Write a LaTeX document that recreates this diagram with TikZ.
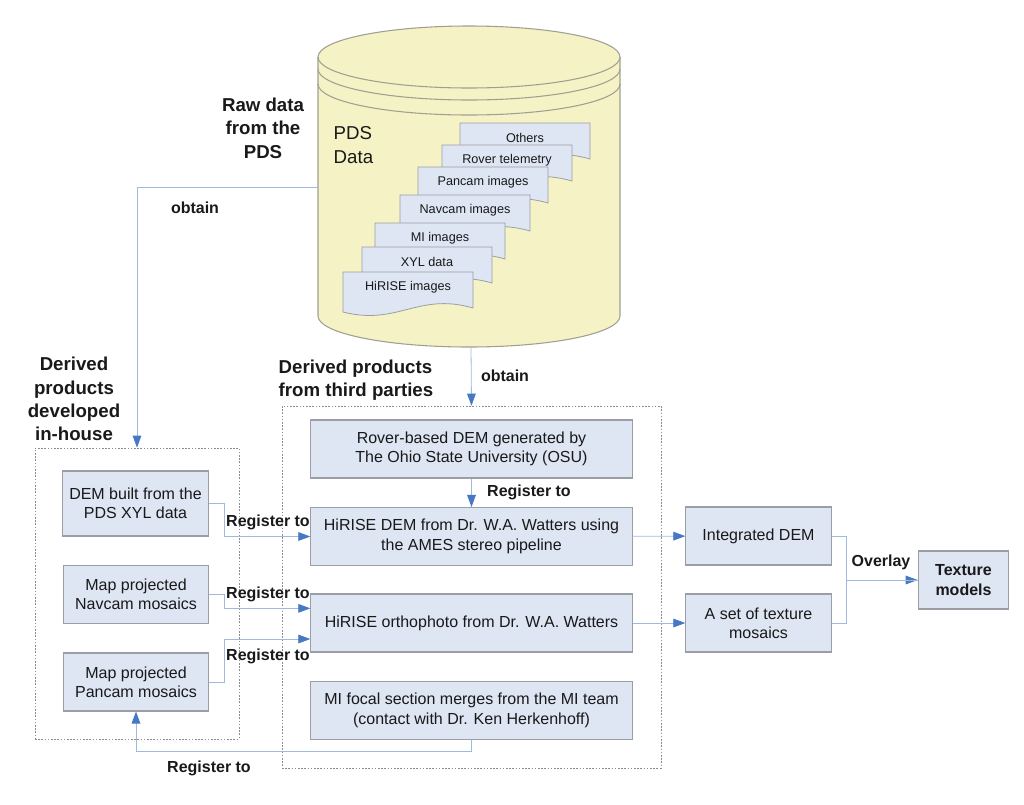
\documentclass[tikz,border=0pt]{standalone}
\usepackage{fontspec}
\setmainfont{Liberation Sans}
\usetikzlibrary{arrows.meta}

\definecolor{boxfill}{RGB}{222,229,243}
\definecolor{boxline}{RGB}{155,158,165}
\definecolor{cylfill}{RGB}{245,242,198}
\definecolor{cylline}{RGB}{160,160,145}
\definecolor{linkblue}{RGB}{160,185,225}
\definecolor{tipblue}{RGB}{70,120,195}
\definecolor{grpline}{RGB}{140,140,140}
\definecolor{txt}{RGB}{25,25,25}

\begin{document}
\begin{tikzpicture}[x=0.75pt, y=-0.75pt, text=txt,
    box/.style={draw=boxline, fill=boxfill, line width=0.8pt, align=center, inner sep=2pt,
        font=\fontsize{12}{14.5}\selectfont, minimum height=43.5pt},
    group/.style={draw=grpline, dash pattern=on 1.2pt off 1.2pt, line width=0.6pt},
    sheet/.style={draw=boxline, fill=boxfill, line width=0.6pt},
    link/.style={draw=linkblue, line width=0.6pt},
    flow/.style={link, ->},
    lbl/.style={font=\bfseries\fontsize{12}{14}\selectfont},
    head/.style={font=\bfseries\fontsize{14}{17.5}\selectfont, align=center},
    >={Stealth[inset=0pt, length=9pt, width=6.5pt, color=tipblue]}]
    \useasboundingbox (0,0) rectangle (1024,804);

    % PDS data cylinder
    \path[draw=cylline, fill=cylfill, line width=0.8pt] (318,57) -- (318,316)
        arc[start angle=180, end angle=360, x radius=113.25pt, y radius=23.25pt] -- (620,57)
        arc[start angle=0, end angle=180, x radius=113.25pt, y radius=23.25pt] -- cycle;
    \foreach \ty in {57, 69, 84}
        \draw[cylline, line width=0.8pt] (318,\ty) arc[start angle=180, end angle=360, x radius=113.25pt, y radius=23.25pt];
    \coordinate (pdsleft) at (318,187);
    \coordinate (pdsbot) at (471,347);
    \node[font=\fontsize{14}{18}\selectfont, align=left, anchor=west] (pdsname) at (329,145) {PDS\\Data};

    % data sheets
    \foreach \dx/\dy/\dtxt [count=\i] in {460/123/Others, 442/145/Rover telemetry, 418/167/Pancam images,
        400/195/Navcam images, 375/223/MI images, 362/247/XYL data, 343/272/HiRISE images}
    {
        \draw[sheet] (\dx,\dy) -- ++(130,0) -- ++(0,36) .. controls +(-55,-16) and +(55,14) .. (\dx,\dy+40) -- cycle;
        \node[font=\fontsize{9.5}{11}\selectfont] (doc\i) at (\dx+65,\dy+15) {\dtxt};
    }

    % headings
    \node[head] (rawhead) at (263,128) {Raw data\\from the\\PDS};
    \node[head] (househead) at (74,399) {Derived\\products\\developed\\in-house};
    \node[head, align=left, anchor=west] (thirdhead) at (274,380) {Derived products\\from third parties};

    % groups
    \node[group, minimum width=153pt, minimum height=218.25pt] (inhouse) at (137,593.5) {};
    \node[group, minimum width=284.25pt, minimum height=271.5pt] (thirdp) at (471.5,587) {};

    % in-house products
    \node[box, minimum width=109pt, minimum height=48.75pt] (dem) at (135.5,503.5) {DEM built from the\\PDS XYL data};
    \node[box, minimum width=109pt] (navmos) at (136,594.5) {Map projected\\Navcam mosaics};
    \node[box, minimum width=109pt] (panmos) at (136,682) {Map projected\\Pancam mosaics};

    % third party products
    \node[box, minimum width=241pt] (rover) at (471.5,449) {Rover-based DEM generated by\\The Ohio State University (OSU)};
    \node[box, minimum width=241pt] (hdem) at (471.5,536.5) {HiRISE DEM from Dr. W.A. Watters using\\the AMES stereo pipeline};
    \node[box, minimum width=241pt] (ortho) at (471.5,623) {HiRISE orthophoto from Dr. W.A. Watters};
    \node[box, minimum width=241pt] (mifocal) at (471.5,710.5) {MI focal section merges from the MI team\\(contact with Dr. Ken Herkenhoff)};

    % results
    \node[box, minimum width=109pt] (intdem) at (758.5,536) {Integrated DEM};
    \node[box, minimum width=109pt] (texmos) at (758.5,623) {A set of texture\\mosaics};
    \node[box, minimum width=68pt, font=\bfseries\fontsize{12}{14.5}\selectfont] (texmod) at (963.5,580) {Texture\\models};

    % connectors
    \draw[flow] (pdsleft) -| (inhouse.north);
    \draw[flow] (pdsbot) -- (thirdp.north);
    \draw[flow] (rover) -- (hdem);
    \draw[flow] (dem.east) -- ++(16,0) |- (hdem.west);
    \draw[flow] (navmos.east) -- ++(15,0) |- ([yshift=11pt]ortho.west);
    \draw[flow] (panmos.east) -- ++(15,0) |- ([yshift=-12pt]ortho.west);
    \draw[flow] (mifocal.south) -- ++(0,11) -| (panmos.south);
    \draw[flow] (hdem) -- (intdem);
    \draw[flow] (ortho) -- (texmos);
    \draw[flow] (intdem.east) -- ++(15,0) |- (texmod.west);
    \draw[link] (texmos.east) -- ++(15,0) |- (texmod.west);

    % connector labels
    \node[lbl] (obtainl) at (195,208) {obtain};
    \node[lbl] (obtainr) at (505,376) {obtain};
    \node[lbl] (regrover) at (529,492) {Register to};
    \node[lbl] (regdem) at (268,522) {Register to};
    \node[lbl] (regnav) at (268,594) {Register to};
    \node[lbl] (regpan) at (268,656) {Register to};
    \node[lbl] (regmi) at (209,768) {Register to};
    \node[lbl] (overlay) at (881,562) {Overlay};
\end{tikzpicture}
\end{document}
